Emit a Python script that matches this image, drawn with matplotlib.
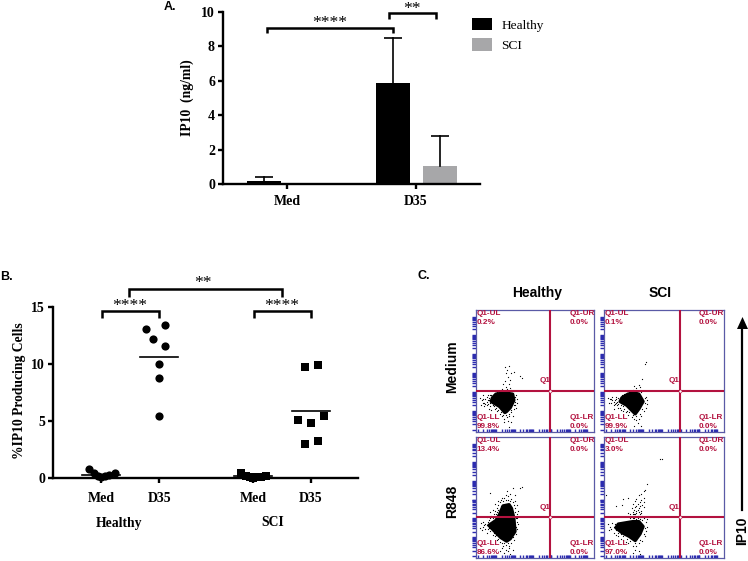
import math
import matplotlib
matplotlib.use('Agg')
import matplotlib.pyplot as plt
from matplotlib.patches import Polygon

# panel A
a_groups = ['Med', 'D35']
a_healthy = [0.18, 5.85]
a_healthy_top = [0.4, 8.5]
a_sci = [0.0, 1.05]
a_sci_top = [0.0, 2.8]
a_yticks = [0, 2, 4, 6, 8, 10]

# panel B, x offset inside the group and value
b_healthy_med = [(-0.21, 0.8), (-0.13, 0.4), (-0.06, 0.15), (0.0, 0.05), (0.06, 0.2), (0.13, 0.3), (0.24, 0.42)]
b_healthy_d35 = [(-0.23, 13.1), (0.11, 13.4), (-0.11, 12.2), (0.11, 11.6), (0.0, 10.0), (0.0, 8.8), (0.0, 5.4)]
b_sci_med = [(-0.21, 0.4), (-0.12, 0.15), (-0.05, 0.05), (0.0, 0.0), (0.06, 0.05), (0.13, 0.1), (0.22, 0.2)]
b_sci_d35 = [(-0.11, 9.7), (0.115, 9.9), (-0.22, 5.05), (0.0, 4.85), (0.22, 5.4), (-0.11, 2.95), (0.115, 3.27)]
b_means = [0.3, 10.65, 0.15, 5.9]
b_pos = [0, 1, 2.62, 3.62]
b_labels = ['Med', 'D35', 'Med', 'D35']
b_yticks = [0, 5, 10, 15]

# panel C, dense cores and the single events around them, axis units 0-100
c_gate_x = 63
c_gate_y = 34
c_core_medium_healthy = [(17, 31), (24, 32), (31, 31), (32, 26), (29, 20), (26, 17), (24.5, 16), (20, 21), (13, 25), (14, 28)]
c_core_medium_sci = [(20, 31), (25, 32), (29, 31), (32.5, 25), (29, 19), (26, 15), (23, 18), (19, 22), (13.5, 25), (15, 28)]
c_core_r848_healthy = [(23, 43), (28, 44), (30, 41), (32, 33), (33, 22), (29, 16), (26, 14), (21, 17), (15, 23), (11, 27), (17, 31), (20, 36)]
c_core_r848_sci = [(18, 29), (24, 30), (29, 30), (32.5, 26), (30, 20), (26, 14.5), (21, 18), (15, 21), (10, 25), (12, 28)]
c_dots_medium_healthy = [
    (24.6, 53.5), (28, 54), (26.5, 51), (25.5, 48), (30, 48), (32.5, 49), (37, 46), (38.7, 44), (27.4, 45),
    (24.6, 42), (29, 43), (23, 39), (28, 39), (25, 37), (29, 36), (22, 35), (26, 35), (30, 34.5),
    (3, 28), (5, 26), (6, 30), (7, 24), (8, 27), (9, 29), (10, 23), (4, 22), (7, 21), (10, 30), (11, 26),
    (12, 21), (9, 25), (6, 27), (13, 30), (14, 22), (13, 18), (11, 19), (34, 30), (34.5, 27), (35, 24),
    (33, 22), (32, 19), (34, 20), (30, 16), (31, 13), (28, 13), (26, 12), (24, 11), (22, 13), (20, 15),
    (18, 17), (16, 19), (27, 9), (30, 8), (24, 8), (28, 4), (15, 31), (18, 33), (22, 34), (28, 34), (32, 33.5),
    (8, 23), (10, 26), (11, 28), (12, 24), (13, 27), (14, 24), (15, 21), (16, 23), (17, 20), (19, 18), (21, 16),
    (23, 14), (25, 14), (28, 15), (30, 18), (32, 22), (33, 25), (33, 29), (16, 30), (12, 30), (9, 22), (6, 24),
]
c_dots_medium_sci = [
    (34.7, 57.6), (34, 56), (32, 43.4), (29, 38.5), (25, 37.7), (30, 37), (27, 36), (24, 34.8),
    (3, 28), (5, 27), (6, 24), (7, 29), (8, 22), (9, 26), (10, 29), (4, 24), (8, 19), (11, 22), (12, 28),
    (13, 20), (14, 18), (10, 24), (15, 30), (16, 17), (18, 16), (35, 29), (35.5, 26), (36, 23), (35, 20),
    (33, 17), (31, 13), (29, 11), (27, 10), (25, 11), (23, 12), (20, 14), (28, 7), (31, 5), (25, 5),
    (17, 31), (21, 33), (26, 34), (31, 33), (8, 25), (9, 23), (10, 27), (11, 25), (12, 23), (13, 27), (14, 22),
    (15, 24), (16, 21), (17, 19), (19, 17), (21, 16), (24, 14), (27, 13), (30, 15), (32, 19), (34, 24), (34, 28),
    (18, 30), (7, 26), (6, 27), (12, 20),
]
c_dots_r848_healthy = [
    (38.7, 59), (37, 58), (26, 55), (31.6, 58), (12, 54), (29, 53), (27, 51), (33, 52), (24, 50), (30, 49),
    (22, 50), (19, 47), (33, 47), (35, 44), (16, 45), (21, 43), (25, 52), (18, 41), (14, 40), (12, 38),
    (15, 36), (36, 39), (35, 36), (35, 30), (9, 34), (17, 33), (6, 30), (4, 29), (7, 27), (3, 25), (5, 23),
    (8, 24), (9, 21), (11, 25), (12, 22), (14, 19), (13, 29), (15, 31), (11, 31), (16, 18), (18, 15), (20, 13),
    (22, 12), (25, 11), (28, 10), (30, 12), (32, 15), (34, 20), (35, 24), (36, 28), (22, 8), (27, 6), (31, 7),
    (24, 4), (29, 3), (20, 6), (18, 38), (19, 44), (33, 41), (34, 33), (20, 46), (21, 48), (23, 47), (25, 48),
    (27, 48), (29, 47), (31, 46), (32, 44), (33, 38), (17, 36), (19, 40), (16, 39), (13, 35), (12, 33), (14, 33),
    (10, 30), (8, 28), (6, 26), (9, 27), (10, 24), (12, 26), (13, 24), (15, 21), (17, 19), (19, 16), (24, 12.5),
    (27, 12), (31, 17), (34, 26), (35, 33), (28, 8), (25, 7), (23, 10),
]
c_dots_r848_sci = [
    (48, 82), (47, 81.5), (35.5, 61), (34, 56), (33, 55), (31, 53), (33, 50), (29, 52), (27, 49), (31, 48),
    (33, 46), (28, 45), (24, 45), (30, 43), (26, 42), (33, 42), (23, 41), (28, 40), (31, 39), (20, 50),
    (16, 49), (15, 44), (10, 43), (2, 52), (24, 38), (27, 37), (30, 36), (26, 34.5), (29, 35), (22, 36),
    (25, 36), (20, 37), (32, 35), (28, 33), (24, 33), (3, 28), (5, 26), (6, 24), (4, 23), (7, 29), (8, 21),
    (10, 19), (12, 18), (14, 16), (16, 15), (18, 13), (20, 12), (24, 10), (27, 10), (29, 12), (32, 14), (34, 18),
    (35, 22), (35.5, 26), (35, 30), (26, 7), (29, 6), (24, 4), (30, 3), (33, 33), (36, 32), (27, 43), (29, 41),
    (25, 40), (27, 39), (29, 38), (24, 36), (26, 36), (28, 35), (30, 34), (31, 37), (26, 47), (30, 46), (32, 44),
    (22, 33), (25, 33), (27, 32), (30, 32), (32, 31), (8, 26), (9, 28), (10, 23), (11, 25), (12, 21), (14, 20),
    (16, 18), (19, 16), (22, 14), (26, 12), (30, 15), (33, 20), (34, 25),
]
c_pct_medium_healthy = ['0.2%', '0.0%', '99.8%', '0.0%']
c_pct_medium_sci = ['0.1%', '0.0%', '99.9%', '0.0%']
c_pct_r848_healthy = ['13.4%', '0.0%', '86.6%', '0.0%']
c_pct_r848_sci = ['3.0%', '0.0%', '97.0%', '0.0%']

W, H = 748, 561
serif = 'Liberation Serif'
sans = 'Liberation Sans'
gate_red = '#b3123f'
frame_blue = '#5a5aa6'
tick_blue = '#2b2bb0'

fig = plt.figure(figsize=(W / 100, H / 100), dpi=100)


def px_axes(left, top, right, bottom):
    return fig.add_axes([left / W, 1 - bottom / H, (right - left) / W, (bottom - top) / H])


def px_text(x, y, s, **kw):
    kw.setdefault('ha', 'center')
    kw.setdefault('va', 'center')
    fig.text(x / W, 1 - y / H, s, **kw)


def bracket(ax, x0, x1, y, drop):
    ax.plot([x0, x0, x1, x1], [y - drop, y, y, y - drop], color='black', lw=1.8, clip_on=False,
            solid_joinstyle='miter', solid_capstyle='butt')


def prism_axes(ax):
    ax.spines['top'].set_visible(False)
    ax.spines['right'].set_visible(False)
    ax.spines['left'].set_linewidth(1.7)
    ax.spines['bottom'].set_linewidth(1.7)
    ax.tick_params(width=1.7, length=3.8, pad=2)
    for lab in ax.get_xticklabels() + ax.get_yticklabels():
        lab.set_fontfamily(serif)
        lab.set_fontweight('bold')
        lab.set_fontsize(10)
    ax.patch.set_alpha(0)


# A
ax = px_axes(223, 12, 480, 184)
off_h, off_s, bw = -0.178, 0.186, 0.264
bars_h = ax.bar([i + off_h for i in range(2)], a_healthy, bw, color='black', label='Healthy')
bars_s = ax.bar([i + off_s for i in range(2)], a_sci, bw, color='#a7a7a9', label='SCI')
# upper whisker only, so no cap shows on the grey bar
for i in range(2):
    ax.plot([i + off_h, i + off_h], [a_healthy[i], a_healthy_top[i]], color='black', lw=1.2)
    ax.plot([i + off_h], [a_healthy_top[i]], '_', color='black', ms=12.5, mew=1.2)
ax.plot([1 + off_s, 1 + off_s], [a_sci[1], a_sci_top[1]], color='black', lw=1.2)
ax.plot([1 + off_s], [a_sci_top[1]], '_', color='black', ms=12.5, mew=1.2)
ax.set_xlim(-0.496, 1.496)
ax.set_ylim(0, 10)
ax.set_xticks([0, 1])
ax.set_xticklabels(a_groups)
ax.set_yticks(a_yticks)
prism_axes(ax)
ax.tick_params(axis='x', pad=4)
bracket(ax, -0.155, 0.82, 9.07, 0.29)
bracket(ax, 0.79, 1.155, 9.94, 0.34)
px_text(330, 23, '****', family=serif, fontsize=12.6)
px_text(412, 9, '**', family=serif, fontsize=12.6)
px_text(187, 98, 'IP10  (ng/ml)', family=serif, fontweight='bold', fontsize=9.8, rotation=90)
fig.legend(handles=[bars_h, bars_s], loc='upper left', bbox_to_anchor=(472 / W, 1 - 18 / H),
           frameon=False, borderpad=0, borderaxespad=0, handlelength=1.5, handleheight=1.05,
           labelspacing=0.5, handletextpad=0.7, prop={'family': serif, 'size': 9.6})
px_text(170, 7, 'A.', family=sans, fontweight='bold', fontsize=9)

# B
ax = px_axes(53, 307, 358, 478)
for pos, pts, mk in zip(b_pos, [b_healthy_med, b_healthy_d35, b_sci_med, b_sci_d35], ['o', 'o', 's', 's']):
    ax.plot([pos + p[0] for p in pts], [p[1] for p in pts], mk, color='black', ms=5.9, mew=0, clip_on=False, zorder=4)
for pos, m in zip(b_pos, b_means):
    ax.plot([pos - 0.33, pos + 0.33], [m, m], color='black', lw=1.2, clip_on=False)
ax.set_xlim(-0.83, 4.43)
ax.set_ylim(0, 15)
ax.set_xticks(b_pos)
ax.set_xticklabels(b_labels)
ax.set_yticks(b_yticks)
prism_axes(ax)
ax.tick_params(axis='x', pad=6)
bracket(ax, 0.01, 1.0, 14.66, 0.66)
bracket(ax, 2.63, 3.62, 14.66, 0.66)
bracket(ax, 0.48, 3.12, 16.6, 0.7)
px_text(130, 306, '****', family=serif, fontsize=12.6)
px_text(282, 306, '****', family=serif, fontsize=12.6)
px_text(203, 283, '**', family=serif, fontsize=12.6)
px_text(20, 391, '%IP10 Producing Cells', family=serif, fontweight='bold', fontsize=9.8, rotation=90)
px_text(119, 523, 'Healthy', family=serif, fontweight='bold', fontsize=9.8)
px_text(273, 523, 'SCI', family=serif, fontweight='bold', fontsize=9.8)
px_text(6, 277, 'B.', family=sans, fontweight='bold', fontsize=9)

# C
log_ticks = [1.5 + 15.6 * (d + math.log10(m)) for d in range(6) for m in range(1, 10)]
log_ticks = [t for t in log_ticks if t < 98]
panels = [
    ((476, 310, 594, 432), c_core_medium_healthy, c_dots_medium_healthy, c_pct_medium_healthy),
    ((604, 310, 724, 432), c_core_medium_sci, c_dots_medium_sci, c_pct_medium_sci),
    ((476, 437, 594, 558), c_core_r848_healthy, c_dots_r848_healthy, c_pct_r848_healthy),
    ((604, 437, 724, 558), c_core_r848_sci, c_dots_r848_sci, c_pct_r848_sci),
]
for box, core, dots, pct in panels:
    ax = px_axes(*box)
    ax.set_xlim(0, 100)
    ax.set_ylim(0, 100)
    ax.add_patch(Polygon(core, closed=True, facecolor='black', edgecolor='black', lw=2.5, joinstyle='round', zorder=2))
    ax.scatter([d[0] for d in dots], [d[1] for d in dots], s=0.8, color='black', linewidths=0, zorder=2)
    ax.axvline(c_gate_x, color=gate_red, lw=1.5, zorder=3)
    ax.axhline(c_gate_y, color=gate_red, lw=1.5, zorder=3)
    ax.plot([c_gate_x], [c_gate_y], 'o', ms=2.2, mfc='white', mec=gate_red, mew=0.4, zorder=4)
    for s in ax.spines.values():
        s.set_color(frame_blue)
        s.set_linewidth(0.9)
    ax.set_xticks(log_ticks)
    ax.set_yticks(log_ticks)
    ax.set_xticklabels([])
    ax.set_yticklabels([])
    ax.tick_params(axis='y', direction='out', length=3, width=1, color=tick_blue)
    ax.tick_params(axis='x', direction='in', length=2.4, width=1, color=tick_blue)
    txt = dict(family=sans, fontweight='bold', fontsize=5.9, color=gate_red, va='center', zorder=5)
    ax.text(0.6, 96.8, 'Q1-UL', **txt)
    ax.text(0.6, 89.8, pct[0], **txt)
    ax.text(79, 96.8, 'Q1-UR', **txt)
    ax.text(79, 89.8, pct[1], **txt)
    ax.text(0.6, 11.8, 'Q1-LL', **txt)
    ax.text(0.6, 4.8, pct[2], **txt)
    ax.text(79, 11.8, 'Q1-LR', **txt)
    ax.text(79, 4.8, pct[3], **txt)
    ax.text(53.5, 42, 'Q1', **txt)

px_text(537, 293, 'Healthy', family=sans, fontweight='bold', fontsize=10)
px_text(660, 293, 'SCI', family=sans, fontweight='bold', fontsize=10)
px_text(452, 367, 'Medium', family=sans, fontweight='bold', fontsize=10, rotation=90)
px_text(452, 501, 'R848', family=sans, fontweight='bold', fontsize=10, rotation=90)
px_text(742, 531, 'IP10', family=sans, fontweight='bold', fontsize=10, rotation=90)
px_text(424, 276, 'C.', family=sans, fontweight='bold', fontsize=9)
fig.add_artist(plt.Line2D([742 / W, 742 / W], [1 - 510 / H, 1 - 325 / H], color='black', lw=1.6))
fig.add_artist(Polygon([(737 / W, 1 - 329 / H), (742.5 / W, 1 - 317 / H), (748 / W, 1 - 329 / H)],
                       closed=True, facecolor='black', edgecolor='none', transform=fig.transFigure))

fig.savefig('out.png', dpi=100)
